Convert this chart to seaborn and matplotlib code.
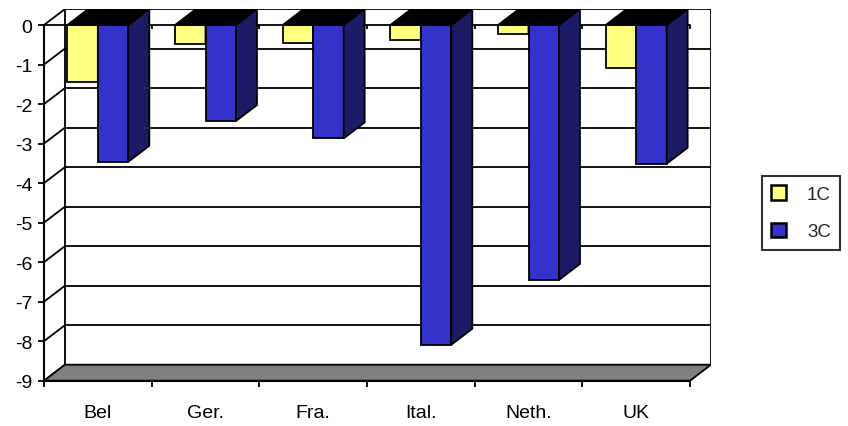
import matplotlib
matplotlib.use("Agg")
import matplotlib.pyplot as plt
from matplotlib.patches import Polygon, Patch
import pandas as pd
import seaborn as sns

# ---- data ----
countries = ["Bel", "Ger.", "Fra.", "Ital.", "Neth.", "UK"]
series_names = ["1C", "3C"]
values_1c = [-1.45, -0.49, -0.45, -0.39, -0.23, -1.08]
values_3c = [-3.46, -2.43, -2.87, -8.09, -6.45, -3.51]
y_ticks = [0, -1, -2, -3, -4, -5, -6, -7, -8, -9]

front_colors = {"1C": "#FFFF80", "3C": "#3333CC"}
side_colors = {"1C": "#80803F", "3C": "#1C1C66"}

df = pd.DataFrame({
    "country": countries * 2,
    "series": [series_names[0]] * len(countries) + [series_names[1]] * len(countries),
    "value": values_1c + values_3c,
})

sns.set_theme(style="ticks")
plt.rcParams["font.family"] = ["Liberation Sans", "DejaVu Sans"]
plt.rcParams["axes.unicode_minus"] = False

W, H = 848, 427
fig = plt.figure(figsize=(W / 100, H / 100), dpi=100)
fig.patch.set_facecolor("white")
ax = fig.add_axes([44 / W, 45.3 / H, 667 / W, 371.7 / H])

lw = 1.3
sns.barplot(data=df, x="country", y="value", hue="series", palette=front_colors,
            order=countries, hue_order=series_names, width=0.566, saturation=1,
            edgecolor="black", linewidth=lw, ax=ax)
if ax.get_legend() is not None:
    ax.get_legend().remove()

# depth of the pseudo-3D box (in data units)
dx, dy = 0.195, 0.405
n = len(countries)
x_left, x_right = -0.5, n - 0.5
y_low, y_high = min(y_ticks), max(y_ticks)

ax.set_xlim(x_left, x_right + dx)
ax.set_ylim(y_low, y_high + dy)
ax.set_facecolor("white")

# back wall gridlines and edges
for t in y_ticks:
    ax.plot([x_left + dx, x_right + dx], [t + dy, t + dy], color="black", lw=lw, zorder=1)
    # side wall diagonals
    ax.plot([x_left, x_left + dx], [t, t + dy], color="black", lw=lw, zorder=1)
for xe in (x_left + dx, x_right + dx):
    ax.plot([xe, xe], [y_low + dy, y_high + dy], color="black", lw=lw, zorder=1)

# floor
floor = Polygon([(x_left, y_low), (x_right, y_low), (x_right + dx, y_low + dy),
                 (x_left + dx, y_low + dy)], closed=True, facecolor="#808080",
                edgecolor="black", lw=lw, zorder=1.5)
ax.add_patch(floor)

# zero line with category ticks
ax.plot([x_left, x_right], [0, 0], color="black", lw=lw, zorder=2)
bounds = [i - 0.5 for i in range(n + 1)]
ax.vlines(bounds, -0.1, 0, color="black", lw=lw, zorder=2)

# bar sides and tops
for i, (name, cont) in enumerate(zip(series_names, ax.containers)):
    z = 3 + i
    for rect in cont.patches:
        x0, w, v = rect.get_x(), rect.get_width(), rect.get_height()
        rect.set_zorder(z)
        side = Polygon([(x0 + w, 0), (x0 + w + dx, dy), (x0 + w + dx, v + dy), (x0 + w, v)],
                       closed=True, facecolor=side_colors[name], edgecolor="black",
                       lw=lw, zorder=z + 0.1)
        top = Polygon([(x0, 0), (x0 + w, 0), (x0 + w + dx, dy), (x0 + dx, dy)],
                      closed=True, facecolor="black", edgecolor="black",
                      lw=lw, zorder=z + 0.2)
        ax.add_patch(side)
        ax.add_patch(top)

# axes styling
for s in ("top", "right"):
    ax.spines[s].set_visible(False)
ax.spines["left"].set_bounds(y_low, y_high)
ax.spines["bottom"].set_bounds(x_left, x_right)
for s in ("left", "bottom"):
    ax.spines[s].set_linewidth(1.5)
    ax.spines[s].set_color("black")
    ax.spines[s].set_zorder(2)

ax.set_yticks(y_ticks)
ax.set_yticklabels([str(t) for t in y_ticks])
ax.set_xticks(range(n))
ax.set_xticklabels(countries)
ax.set_xticks(bounds, minor=True)
ax.tick_params(axis="y", direction="out", length=4.3, width=1.3, color="black",
               pad=4, labelsize=14, labelcolor="black")
ax.tick_params(axis="x", which="major", length=0, pad=17, labelsize=14, labelcolor="black")
ax.tick_params(axis="x", which="minor", direction="out", length=4.3, width=1.3, color="black")
ax.set_xlabel("")
ax.set_ylabel("")

handles = [Patch(facecolor=front_colors[s], edgecolor="black", linewidth=1.8) for s in series_names]
leg = fig.legend(handles, series_names, loc="upper left",
                 bbox_to_anchor=(762 / W, 1 - 177 / H), frameon=True, fancybox=False,
                 fontsize=13.5, handlelength=0.8, handleheight=0.8, handletextpad=1.1,
                 labelspacing=1.05, borderpad=0.5, borderaxespad=0)
leg.get_frame().set_edgecolor("black")
leg.get_frame().set_linewidth(1.5)

fig.savefig("out.png", dpi=100, facecolor="white")
